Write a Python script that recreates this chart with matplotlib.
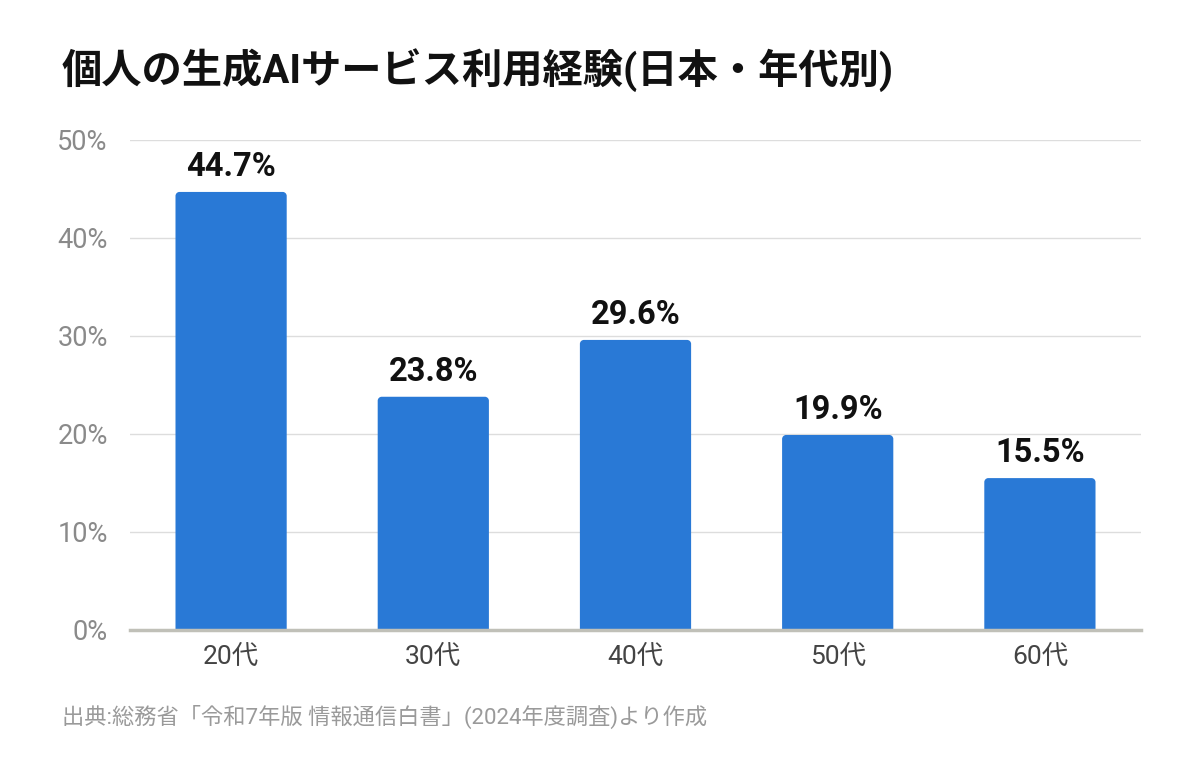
import matplotlib
matplotlib.use("Agg")
import matplotlib.pyplot as plt
from matplotlib.path import Path
from matplotlib.patches import PathPatch

categories = ["20代", "30代", "40代", "50代", "60代"]
values = [44.7, 23.8, 29.6, 19.9, 15.5]
yticks = [0, 10, 20, 30, 40, 50]
ytick_labels = ["0%", "10%", "20%", "30%", "40%", "50%"]
title = "個人の生成AIサービス利用経験(日本・年代別)"
source = "出典:総務省「令和7年版 情報通信白書」(2024年度調査)より作成"

plt.rcParams['font.family'] = ['Roboto', 'Noto Sans CJK JP', 'DejaVu Sans']

W, H = 1200, 760
fig = plt.figure(figsize=(12, 7.6), dpi=100)
ax_l, ax_r, ax_b, ax_t = 130, 1141, 130, 620
ax = fig.add_axes([ax_l/W, ax_b/H, (ax_r-ax_l)/W, (ax_t-ax_b)/H])

ax.set_xlim(-0.5, len(values) - 0.5)
ax.set_ylim(0, 50)

bar_color = "#2979d6"
width = 0.55
bars = ax.bar(range(len(values)), values, width=width, color=bar_color, zorder=3)
# slightly rounded top corners (~4 px)
xpp = len(values) / (ax_r - ax_l)
ypp = 50 / (ax_t - ax_b)
rx, ry = 4 * xpp, 4 * ypp
k = 0.5523
for b in bars:
    x, y = b.get_x(), b.get_y()
    w, h = b.get_width(), b.get_height()
    b.set_visible(False)
    top = y + h
    verts = [
        (x, y), (x, top - ry),
        (x, top - ry + k * ry), (x + rx - k * rx, top), (x + rx, top),
        (x + w - rx, top),
        (x + w - rx + k * rx, top), (x + w, top - ry + k * ry), (x + w, top - ry),
        (x + w, y), (x, y),
    ]
    codes = [Path.MOVETO, Path.LINETO,
             Path.CURVE4, Path.CURVE4, Path.CURVE4,
             Path.LINETO,
             Path.CURVE4, Path.CURVE4, Path.CURVE4,
             Path.LINETO, Path.CLOSEPOLY]
    ax.add_patch(PathPatch(Path(verts, codes), facecolor=bar_color,
                           edgecolor="none", zorder=3))

for i, v in enumerate(values):
    ax.text(i, v + 0.9, f"{v:.1f}%", ha="center", va="bottom", fontsize=23.5,
            fontweight="bold", color="#111111", zorder=4)

ax.set_yticks(yticks)
ax.set_yticklabels(ytick_labels, fontsize=19.5, color="#8a8a8a")
ax.set_xticks(range(len(categories)))
ax.set_xticklabels(categories, fontsize=19, color="#444444")
ax.tick_params(axis="both", length=0)
ax.tick_params(axis="y", pad=16)
ax.tick_params(axis="x", pad=11)
ax.grid(axis="y", color="#dddddd", linewidth=1, zorder=0)
ax.set_axisbelow(True)
for s in ["top", "right", "left"]:
    ax.spines[s].set_visible(False)
ax.spines["bottom"].set_color("#c0c0b8")
ax.spines["bottom"].set_linewidth(2.5)
ax.spines["bottom"].set_zorder(5)

fig.text(62/W, 1 - 70/H, title, fontsize=29, fontweight="bold",
         color="#111111", ha="left", va="center")
fig.text(62/W, 1 - 717/H, source, fontsize=16, color="#9a9a9a",
         ha="left", va="center")

fig.savefig("out.png", dpi=100, facecolor="white")
